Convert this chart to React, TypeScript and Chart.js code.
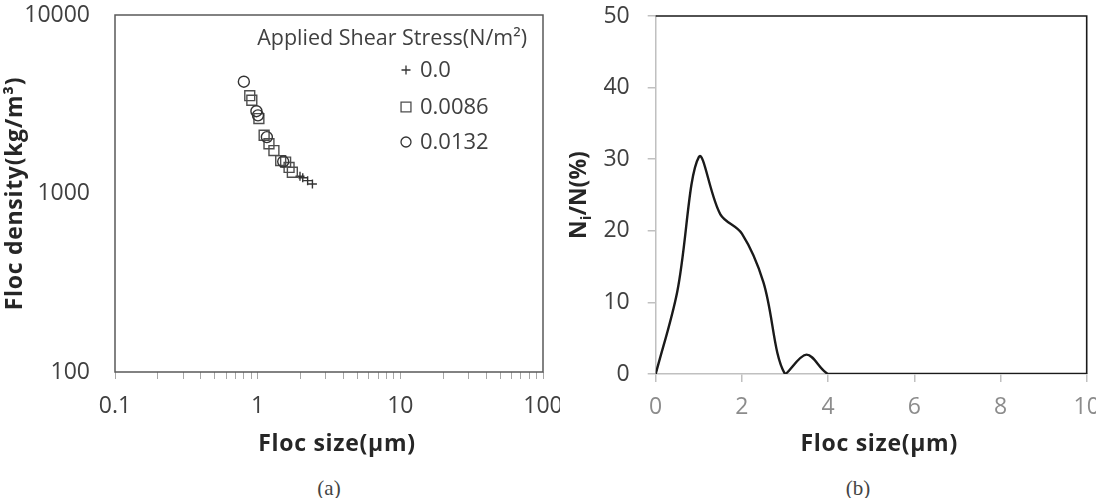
import React, { useEffect, useRef } from 'react';
import { Chart, registerables } from 'chart.js';

Chart.register(...registerables);

const SANS = "'Open Sans', 'Noto Sans', sans-serif";

// Panel (a): floc density against floc size, one series per applied shear stress
const stressLabels = ['0.0', '0.0086', '0.0132'];
const sizeNoShear = [1.98, 2.07, 2.24, 2.42];
const densityNoShear = [1250, 1225, 1180, 1130];
const sizeShear0086 = [0.88, 0.91, 1.02, 1.11, 1.2, 1.3, 1.45, 1.57, 1.66, 1.75];
const densityShear0086 = [3530, 3330, 2630, 2120, 1900, 1740, 1530, 1500, 1400, 1315];
const sizeShear0132 = [0.8, 0.98, 1.005, 1.16, 1.51];
const densityShear0132 = [4230, 2890, 2740, 2070, 1510];

const sizeDecades = [0.1, 1, 10, 100];
const densityDecades = [100, 1000, 10000];

// Panel (b): number fraction of flocs per size class
const sizeBins = [0, 0.5, 1, 1.5, 2, 2.5, 3, 3.5, 4, 4.5, 5, 5.5, 6, 6.5, 7, 7.5, 8, 8.5, 9, 9.5, 10];
const numberFraction = [0, 11.5, 30.3, 22.3, 19.6, 12.8, 0, 2.7, 0, 0, 0, 0, 0, 0, 0, 0, 0, 0, 0, 0, 0];
const fractionTicks = [0, 10, 20, 30, 40, 50];
const binTicks = [0, 2, 4, 6, 8, 10];

const legendTitle = 'Applied Shear Stress(N/m\u00B2)';
const sizeTitle = 'Floc size(\u03BCm)';
const densityTitle = 'Floc density(kg/m\u00B3)';

const toPoints = (xs: number[], ys: number[]) => xs.map((x, i) => ({ x, y: ys[i] }));

// log-axis tick positions: 1..9 within every decade
const logTicks = (decades: number[]) => {
  const out: number[] = [];
  for (let d = 0; d < decades.length - 1; d++) {
    for (let k = 1; k < 10; k++) out.push(decades[d] * k);
  }
  out.push(decades[decades.length - 1]);
  return out;
};
const isDecade = (v: number, decades: number[]) => decades.some((d) => Math.abs(d - v) < d * 1e-6);

function drawSymbol(ctx: CanvasRenderingContext2D, style: string, x: number, y: number, r: number) {
  ctx.beginPath();
  if (style === 'cross') {
    ctx.moveTo(x - r, y);
    ctx.lineTo(x + r, y);
    ctx.moveTo(x, y - r);
    ctx.lineTo(x, y + r);
  } else if (style === 'rect') {
    const h = r * Math.SQRT1_2;
    ctx.rect(x - h, y - h, 2 * h, 2 * h);
  } else {
    ctx.arc(x, y, r, 0, Math.PI * 2);
  }
  ctx.stroke();
}

const panelAPlugin = {
  id: 'panelA',
  beforeDatasetsDraw(chart: any) {
    const { ctx, chartArea: a } = chart;
    ctx.save();
    ctx.strokeStyle = '#595959';
    ctx.lineWidth = 1.5;
    ctx.strokeRect(a.left, a.top, a.right - a.left, a.bottom - a.top);
    ctx.restore();
  },
  afterDraw(chart: any) {
    const { ctx, chartArea: a } = chart;
    ctx.save();
    // axis titles
    ctx.fillStyle = '#262626';
    ctx.font = `bold 23px ${SANS}`;
    ctx.letterSpacing = '0.7px';
    ctx.textAlign = 'center';
    ctx.textBaseline = 'middle';
    ctx.fillText(sizeTitle, (a.left + a.right) / 2 + 8, 444);
    ctx.save();
    ctx.translate(15, (a.top + a.bottom) / 2);
    ctx.rotate(-Math.PI / 2);
    ctx.fillText(densityTitle, 0, 0);
    ctx.restore();
    ctx.letterSpacing = '0px';

    // legend
    ctx.fillStyle = '#404040';
    ctx.font = `21.5px ${SANS}`;
    ctx.textAlign = 'right';
    ctx.fillText(legendTitle, a.right - 16, a.top + 24);
    ctx.font = `22px ${SANS}`;
    ctx.textAlign = 'left';
    const rows = [a.top + 55, a.top + 92, a.top + 127];
    const sizes: Record<string, number> = { cross: 4.5, rect: 7, circle: 5 };
    chart.data.datasets.forEach((ds: any, i: number) => {
      ctx.strokeStyle = ds.borderColor;
      ctx.lineWidth = 1.3;
      drawSymbol(ctx, ds.pointStyle, a.right - 137, rows[i], sizes[ds.pointStyle]);
      ctx.fillText(ds.label, a.right - 123, rows[i] + 1);
    });
    ctx.restore();
  },
};

const panelBPlugin = {
  id: 'panelB',
  beforeDatasetsDraw(chart: any) {
    const { ctx, chartArea: a } = chart;
    ctx.save();
    ctx.strokeStyle = '#1a1a1a';
    ctx.lineWidth = 1.6;
    ctx.beginPath();
    ctx.moveTo(a.left, a.top);
    ctx.lineTo(a.right, a.top);
    ctx.lineTo(a.right, a.bottom);
    ctx.stroke();
    ctx.restore();
  },
  afterDraw(chart: any) {
    const { ctx, chartArea: a } = chart;
    ctx.save();
    ctx.fillStyle = '#262626';
    ctx.textBaseline = 'middle';
    ctx.textAlign = 'center';
    ctx.font = `bold 23px ${SANS}`;
    ctx.letterSpacing = '0.7px';
    ctx.fillText(sizeTitle, (a.left + a.right) / 2 + 8, 444);
    ctx.letterSpacing = '0px';

    // N_i/N(%) with a subscript i, written bottom to top
    ctx.translate(18, (a.top + a.bottom) / 2);
    ctx.rotate(-Math.PI / 2);
    ctx.textAlign = 'left';
    ctx.textBaseline = 'alphabetic';
    const big = `bold 23px ${SANS}`;
    const small = `bold 15px ${SANS}`;
    ctx.font = big;
    const w1 = ctx.measureText('N').width;
    const w3 = ctx.measureText('/N(%)').width;
    ctx.font = small;
    const w2 = ctx.measureText('i').width;
    let x = -(w1 + w2 + w3) / 2;
    const base = 8;
    ctx.font = big;
    ctx.fillText('N', x, base);
    x += w1;
    ctx.font = small;
    ctx.fillText('i', x, base + 5);
    x += w2;
    ctx.font = big;
    ctx.fillText('/N(%)', x, base);
    ctx.restore();
  },
};

function PanelA() {
  const ref = useRef<HTMLCanvasElement>(null);
  useEffect(() => {
    const chart = new Chart(ref.current!, {
      type: 'scatter',
      data: {
        datasets: [
          {
            label: stressLabels[0],
            data: toPoints(sizeNoShear, densityNoShear),
            pointStyle: 'cross',
            pointRadius: 4.5,
            borderColor: '#333333',
            backgroundColor: 'transparent',
            borderWidth: 1.4,
            order: 2,
          },
          {
            label: stressLabels[1],
            data: toPoints(sizeShear0086, densityShear0086),
            pointStyle: 'rect',
            pointRadius: 7,
            borderColor: '#4d4d4d',
            backgroundColor: 'transparent',
            borderWidth: 1.4,
            order: 1,
          },
          {
            label: stressLabels[2],
            data: toPoints(sizeShear0132, densityShear0132),
            pointStyle: 'circle',
            pointRadius: 5.5,
            borderColor: '#333333',
            backgroundColor: 'transparent',
            borderWidth: 1.4,
            order: 0,
          },
        ],
      },
      options: {
        responsive: false,
        animation: false,
        events: [],
        layout: { padding: { top: 15, right: 17, left: 0, bottom: 0 } },
        plugins: { legend: { display: false }, tooltip: { enabled: false } },
        scales: {
          x: {
            type: 'logarithmic',
            min: sizeDecades[0],
            max: sizeDecades[sizeDecades.length - 1],
            afterBuildTicks: (s: any) => {
              s.ticks = logTicks(sizeDecades).map((value) => ({ value }));
            },
            afterFit: (s: any) => {
              s.height = 88;
              s.paddingLeft = 0;
              s.paddingRight = 0;
            },
            grid: { drawOnChartArea: false, drawTicks: true, tickLength: 7, color: '#a6a6a6', lineWidth: 1 },
            border: { display: false },
            ticks: {
              autoSkip: false,
              maxRotation: 0,
              padding: 14,
              color: '#404040',
              font: { family: SANS, size: 23 },
              callback: (v: any) => (isDecade(Number(v), sizeDecades) ? String(Number(v)) : ''),
            },
          },
          y: {
            type: 'logarithmic',
            min: densityDecades[0],
            max: densityDecades[densityDecades.length - 1],
            afterBuildTicks: (s: any) => {
              s.ticks = densityDecades.map((value) => ({ value }));
            },
            afterFit: (s: any) => {
              s.width = 115;
              s.paddingTop = 0;
              s.paddingBottom = 0;
            },
            grid: { display: false, drawTicks: false },
            border: { display: false },
            ticks: {
              padding: 25,
              color: '#404040',
              font: { family: SANS, size: 23 },
              callback: (v: any) => String(Number(v)),
            },
          },
        },
      },
      plugins: [panelAPlugin],
    } as any);
    return () => chart.destroy();
  }, []);
  return <canvas ref={ref} width={560} height={460} style={{ position: 'absolute', left: 0, top: 0 }} />;
}

function PanelB() {
  const ref = useRef<HTMLCanvasElement>(null);
  useEffect(() => {
    const chart = new Chart(ref.current!, {
      type: 'line',
      data: {
        datasets: [
          {
            data: toPoints(sizeBins, numberFraction),
            borderColor: '#1a1a1a',
            borderWidth: 2.4,
            pointRadius: 0,
            tension: 0.35,
            fill: false,
          },
        ],
      },
      options: {
        responsive: false,
        animation: false,
        events: [],
        layout: { padding: { top: 16, right: 9.3, left: 0, bottom: 0 } },
        plugins: { legend: { display: false }, tooltip: { enabled: false } },
        scales: {
          x: {
            type: 'linear',
            min: binTicks[0],
            max: binTicks[binTicks.length - 1],
            afterBuildTicks: (s: any) => {
              s.ticks = binTicks.map((value) => ({ value }));
            },
            afterFit: (s: any) => {
              s.height = 86;
              s.paddingLeft = 0;
              s.paddingRight = 0;
            },
            grid: { drawOnChartArea: false, drawTicks: true, tickLength: 8, color: '#c0c0c0', lineWidth: 1.5 },
            border: { display: true, color: '#c0c0c0', width: 1.5 },
            ticks: {
              autoSkip: false,
              maxRotation: 0,
              padding: 12,
              color: '#8c8c8c',
              font: { family: SANS, size: 23 },
            },
          },
          y: {
            type: 'linear',
            min: fractionTicks[0],
            max: fractionTicks[fractionTicks.length - 1],
            afterBuildTicks: (s: any) => {
              s.ticks = fractionTicks.map((value) => ({ value }));
            },
            afterFit: (s: any) => {
              s.width = 95.7;
              s.paddingTop = 0;
              s.paddingBottom = 0;
            },
            grid: { drawOnChartArea: false, drawTicks: true, tickLength: 8, color: '#c0c0c0', lineWidth: 1.5 },
            border: { display: true, color: '#c0c0c0', width: 1.5 },
            ticks: {
              padding: 18,
              color: '#404040',
              font: { family: SANS, size: 23 },
            },
          },
        },
      },
      plugins: [panelBPlugin],
    } as any);
    return () => chart.destroy();
  }, []);
  return <canvas ref={ref} width={536} height={460} style={{ position: 'absolute', left: 560, top: 0 }} />;
}

const captionStyle: React.CSSProperties = {
  position: 'absolute',
  top: 475,
  width: 60,
  textAlign: 'center',
  fontFamily: "'Liberation Serif', 'DejaVu Serif', serif",
  fontSize: 21,
  lineHeight: '26px',
  color: '#444444',
};

export default function App() {
  return (
    <div style={{ position: 'absolute', left: 0, top: 0, width: 1096, height: 498, background: '#ffffff', overflow: 'hidden' }}>
      <PanelA />
      <PanelB />
      <div style={{ ...captionStyle, left: 329 - 30 }}>(a)</div>
      <div style={{ ...captionStyle, left: 858 - 30 }}>(b)</div>
    </div>
  );
}
